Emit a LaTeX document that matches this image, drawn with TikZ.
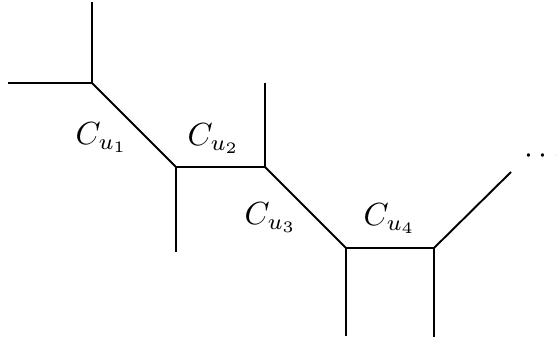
\documentclass[tikz,border=0pt]{standalone}
\begin{document}
\begin{tikzpicture}[x=0.3125pt,y=-0.3125pt,
  edge/.style={line width=0.6pt},
  lbl/.style={inner sep=0pt,anchor=base west}]
\useasboundingbox (0,0) rectangle (556,347);
\coordinate (A) at (92,83);
\coordinate (At) at (92,2);
\coordinate (Al) at (8,83);
\coordinate (B) at (176,167);
\coordinate (Bb) at (176,252);
\coordinate (C) at (265,167);
\coordinate (Ct) at (265,83);
\coordinate (D) at (346,248);
\coordinate (Db) at (346,336);
\coordinate (E) at (434,248);
\coordinate (Eb) at (434,337);
\coordinate (F) at (511,172);
\draw[edge] (Al) -- (A) -- (At);
\draw[edge] (A) -- (B) -- (Bb);
\draw[edge] (B) -- (C) -- (Ct);
\draw[edge] (C) -- (D) -- (Db);
\draw[edge] (D) -- (E) -- (Eb);
\draw[edge] (E) -- (F);
\node[lbl] (l1) at (75,145) {$C_{u_1}$};
\node[lbl] (l2) at (187,146) {$C_{u_2}$};
\node[lbl] (l3) at (244,225) {$C_{u_3}$};
\node[lbl] (l4) at (363,226) {$C_{u_4}$};
\node[lbl] (dots) at (524,164) {$\cdots$};
\end{tikzpicture}
\end{document}
